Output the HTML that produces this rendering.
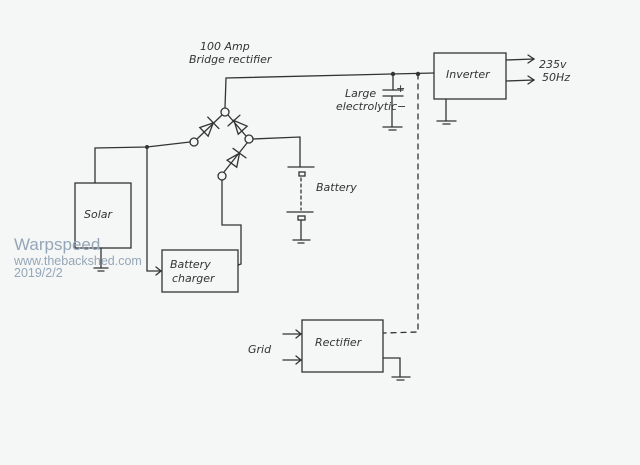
<!DOCTYPE html>
<html><head><meta charset="utf-8"><style>
html,body{margin:0;padding:0;background:#f5f6f6;}
svg{display:block;}
text{font-family:"Liberation Sans",sans-serif;fill:#333;}
.h{font-style:italic;font-size:11px;font-family:"DejaVu Sans",sans-serif;}
</style></head><body>
<svg width="640" height="465" viewBox="0 0 640 465" xmlns="http://www.w3.org/2000/svg">
<rect width="640" height="465" fill="#f5f6f6"/>
<g stroke="#333" stroke-width="1.3" fill="none" stroke-linecap="round">
<polyline points="225,108 226,78 434,73"/>
<line x1="197" y1="139" x2="222" y2="115"/>
<line x1="228" y1="115" x2="246" y2="136"/>
<line x1="224" y1="172" x2="247" y2="143"/>
<circle cx="225" cy="112" r="4" fill="#f5f6f6"/>
<circle cx="194" cy="142" r="4" fill="#f5f6f6"/>
<circle cx="249" cy="139" r="4" fill="#f5f6f6"/>
<circle cx="222" cy="176" r="4" fill="#f5f6f6"/>
<g transform="translate(209,127) rotate(-44)"><polygon points="-7,-6 -7,6 6,0"/><line x1="6" y1="-8" x2="6" y2="8"/></g>
<g transform="translate(238,125) rotate(-132)"><polygon points="-7,-6 -7,6 6,0"/><line x1="6" y1="-8" x2="6" y2="8"/></g>
<g transform="translate(236,158) rotate(-54)"><polygon points="-7,-6 -7,6 6,0"/><line x1="6" y1="-8" x2="6" y2="8"/></g>
<polyline points="190,142 147,147 95,148 95,183"/>
<rect x="75" y="183" width="56" height="65"/>
<polyline points="101,248 101,268"/>
<line x1="94" y1="268" x2="108" y2="268"/><line x1="98" y1="271" x2="104" y2="271"/>
<polyline points="147,147 147,271 161,271"/>
<polyline points="156,267 161,271 156,275"/>
<rect x="162" y="250" width="76" height="42"/>
<polyline points="222,180 222,225 241,225 241,264 238,265"/>
<polyline points="253,139 300,137 300,167"/>
<line x1="288" y1="167" x2="314" y2="167"/>
<rect x="299" y="172" width="6" height="4"/>
<line x1="301" y1="178" x2="301" y2="210" stroke-dasharray="3,3"/>
<line x1="287" y1="212" x2="313" y2="212"/>
<rect x="298" y="216" width="7" height="4"/>
<line x1="301" y1="220" x2="301" y2="240"/>
<line x1="293" y1="240" x2="310" y2="240"/><line x1="298" y1="243" x2="304" y2="243"/>
<line x1="393" y1="74" x2="393" y2="90"/>
<line x1="383" y1="90" x2="403" y2="90"/>
<line x1="383" y1="96" x2="403" y2="96"/>
<line x1="392" y1="96" x2="392" y2="127"/>
<line x1="383" y1="127" x2="402" y2="127"/><line x1="389" y1="130" x2="396" y2="130"/>
<polyline points="418,74 418,332 384,333" stroke-dasharray="5,5"/>
<rect x="434" y="53" width="72" height="46"/>
<line x1="506" y1="60" x2="534" y2="59"/><polyline points="528,55 534,59 528,63"/>
<line x1="506" y1="81" x2="534" y2="80"/><polyline points="528,76 534,80 528,84"/>
<line x1="446" y1="99" x2="446" y2="121"/>
<line x1="437" y1="121" x2="456" y2="121"/><line x1="443" y1="124" x2="450" y2="124"/>
<rect x="302" y="320" width="81" height="52"/>
<line x1="283" y1="334" x2="301" y2="334"/><polyline points="296,330 301,334 296,338"/>
<line x1="283" y1="360" x2="301" y2="360"/><polyline points="296,356 301,360 296,364"/>
<polyline points="383,358 400,358 400,377"/>
<line x1="392" y1="377" x2="410" y2="377"/><line x1="397" y1="380" x2="404" y2="380"/>
</g>
<g fill="#333"><circle cx="147" cy="147" r="2"/><circle cx="393" cy="74" r="2.2"/><circle cx="418" cy="74" r="2.2"/></g>
<text class="h" x="200" y="50">100 Amp</text>
<text class="h" x="189" y="63">Bridge rectifier</text>
<text class="h" x="84" y="218" font-size="12">Solar</text>
<text class="h" x="170" y="268">Battery</text>
<text class="h" x="172" y="282">charger</text>
<text class="h" x="316" y="191">Battery</text>
<text class="h" x="345" y="97" font-size="10">Large</text>
<text class="h" x="336" y="110" font-size="10">electrolytic</text>
<text class="h" x="396" y="92" font-size="9">+</text>
<text class="h" x="397" y="110" font-size="10">−</text>
<text class="h" x="446" y="78">Inverter</text>
<text class="h" x="539" y="68" font-size="9">235v</text>
<text class="h" x="542" y="81" font-size="9">50Hz</text>
<text class="h" x="315" y="346" font-size="12">Rectifier</text>
<text class="h" x="248" y="353">Grid</text>
<text x="14" y="250" font-size="17" style="fill:#95a6b8">Warpspeed</text>
<text x="14" y="265" font-size="12.5" style="fill:#95a6b8">www.thebackshed.com</text>
<text x="14" y="277" font-size="12.5" style="fill:#95a6b8">2019/2/2</text>
</svg>
</body></html>
